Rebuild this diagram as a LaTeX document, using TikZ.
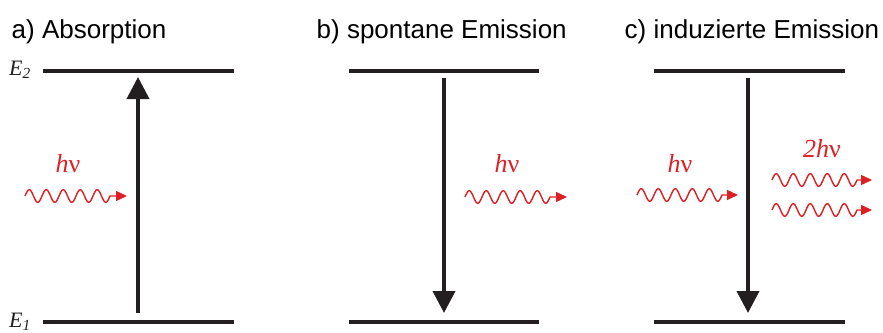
\documentclass[tikz,border=0pt]{standalone}
\usepackage{fontspec}
\setmainfont{Liberation Sans}
\newfontfamily\tmsfont{Liberation Serif}
\usetikzlibrary{arrows.meta}
\definecolor{inkblack}{RGB}{35,31,32}
\definecolor{photred}{RGB}{222,32,36}
\tikzset{
  titletext/.style={anchor=base west, inner sep=0pt, text=black, font=\fontsize{26}{30}\selectfont},
  elabel/.style={anchor=base west, inner sep=0pt, text=inkblack, font=\tmsfont\itshape\fontsize{22}{26}\selectfont},
  hnulabel/.style={anchor=base, inner sep=0pt, text=photred, font=\tmsfont\fontsize{26}{30}\selectfont},
  level/.style={draw=inkblack, line width=4.4pt},
  transition/.style={draw=inkblack, line width=3.8pt, -{Triangle[length=22pt,width=22pt]}},
  photon/.style={draw=photred, line width=1.4pt, line join=round, -{Triangle[length=11pt,width=10pt]}}
}
\begin{document}
\begin{tikzpicture}[x=1pt,y=-1pt]
\path[use as bounding box] (0,0) rectangle (883,332);

% titles
\node[titletext] (ta) at (11.5,38) {a) Absorption};
\node[titletext] (tb) at (316.5,38) {b) spontane Emission};
\node[titletext] (tc) at (624.5,38) {c) induzierte Emission};

% energy labels
\node[elabel] (E2) at (9,75.5) {E\textsubscript{2}};
\node[elabel] (E1) at (9,327) {E\textsubscript{1}};

% level coordinates
\coordinate (aTL) at (43,71);  \coordinate (aTR) at (234,71);
\coordinate (aBL) at (43,322); \coordinate (aBR) at (234,322);
\coordinate (bTL) at (349,71);  \coordinate (bTR) at (539,71);
\coordinate (bBL) at (349,322); \coordinate (bBR) at (539,322);
\coordinate (cTL) at (654,71);  \coordinate (cTR) at (845,71);
\coordinate (cBL) at (654,322); \coordinate (cBR) at (845,322);

\draw[level] (aTL) -- (aTR);
\draw[level] (aBL) -- (aBR);
\draw[level] (bTL) -- (bTR);
\draw[level] (bBL) -- (bBR);
\draw[level] (cTL) -- (cTR);
\draw[level] (cBL) -- (cBR);

% transitions
\coordinate (aUp0) at (138,313); \coordinate (aUp1) at (138,77);
\coordinate (bDn0) at (444,78);  \coordinate (bDn1) at (444,313);
\coordinate (cDn0) at (748,78);  \coordinate (cDn1) at (748,313);
\draw[transition] (aUp0) -- (aUp1);
\draw[transition] (bDn0) -- (bDn1);
\draw[transition] (cDn0) -- (cDn1);

% photon labels
\node[hnulabel] (hna) at (68,172) {\textit{h}ν};
\node[hnulabel] (hnb) at (507,172) {\textit{h}ν};
\node[hnulabel] (hnc) at (680,172) {\textit{h}ν};
\node[hnulabel] (hnd) at (822,157) {\textit{2h}ν};

% photons: start x / y / name of end coordinate
\coordinate (pa1) at (127,196);
\coordinate (pb1) at (567,197);
\coordinate (pc1) at (738,195);
\coordinate (pd1) at (872,180);
\coordinate (pe1) at (872,210);
\foreach \sx/\sy/\nm in {25/196/pa1, 465/197/pb1, 637/195/pc1, 772/180/pd1, 772/210/pe1}{
  \draw[photon] plot[domain=0:85, samples=90, smooth] ({\sx+\x},{\sy-6.3*sin(\x*21.1765)}) -- (\nm);
}
\end{tikzpicture}
\end{document}
